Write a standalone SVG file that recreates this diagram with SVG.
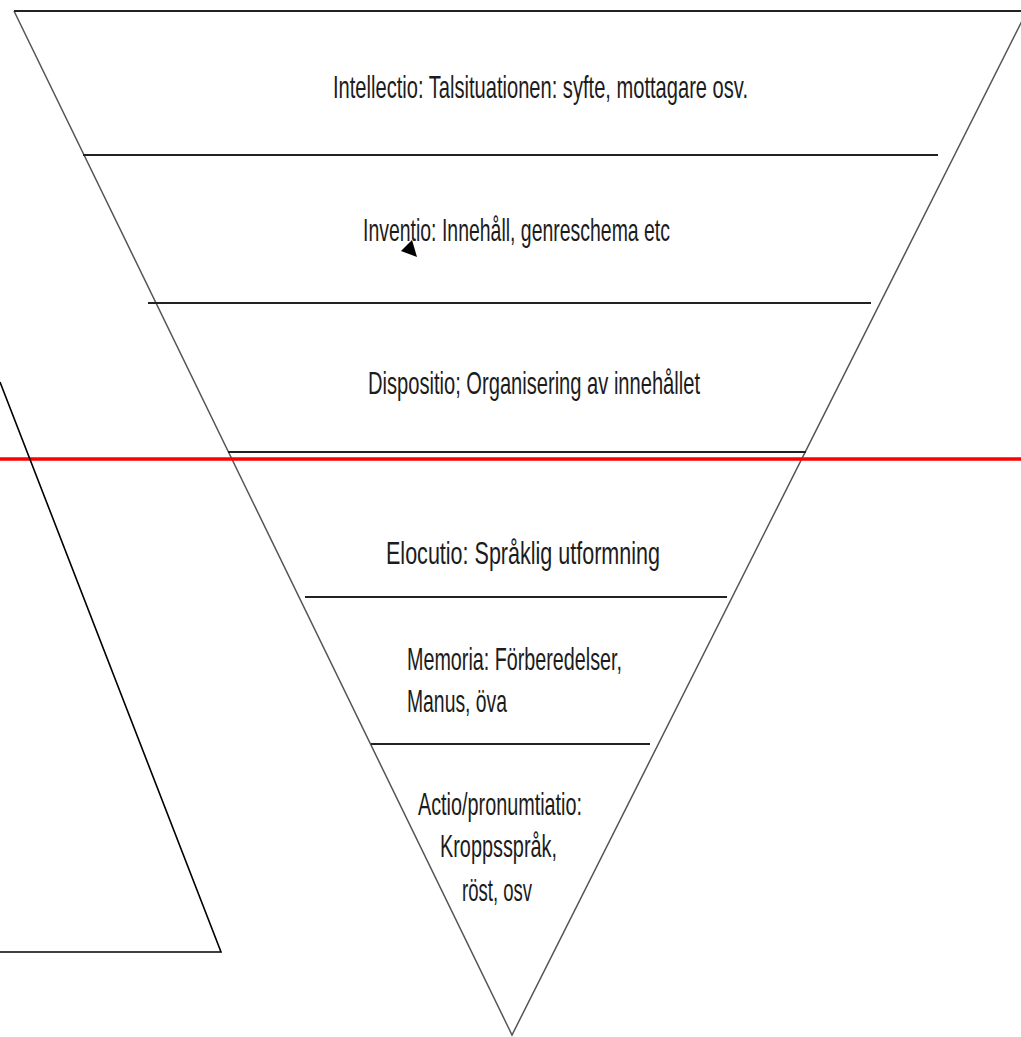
<svg xmlns="http://www.w3.org/2000/svg" width="1021" height="1037" viewBox="0 0 1021 1037">
<style>
.edge{stroke:#555;stroke-width:1.5;fill:none}
.div{stroke:#222;stroke-width:2.2;fill:none}
.lbl{font-family:"Liberation Sans",Arial,sans-serif;font-size:32px;fill:#1c1c1c}
.red{stroke:#ff0000;stroke-width:3.5}
.blk{stroke:#000;stroke-width:1.6;fill:none}
</style>
<rect width="1021" height="1037" fill="#fff"/>
<g id="pyramid">
<polyline class="edge" points="1027,11 512,1035 14,11"/>
<line class="div" x1="14" y1="11" x2="1027" y2="11" stroke-width="2.8"/>
</g>
<g id="intellectio">
<line class="div" x1="83" y1="155" x2="938" y2="155"/>
<text class="lbl" x="333" y="98" textLength="415" lengthAdjust="spacingAndGlyphs">Intellectio: Talsituationen: syfte, mottagare osv.</text>
</g>
<g id="inventio">
<line class="div" x1="148" y1="303" x2="871" y2="303"/>
<text class="lbl" x="363" y="241" textLength="307" lengthAdjust="spacingAndGlyphs">Inventio: Innehåll, genreschema etc</text>
</g>
<g id="dispositio">
<line class="div" x1="228" y1="452" x2="806" y2="452"/>
<text class="lbl" x="368" y="394" textLength="332" lengthAdjust="spacingAndGlyphs">Dispositio; Organisering av innehållet</text>
</g>
<g id="elocutio">
<line class="div" x1="305" y1="597" x2="727" y2="597"/>
<text class="lbl" x="386" y="564" textLength="274" lengthAdjust="spacingAndGlyphs">Elocutio: Språklig utformning</text>
</g>
<g id="memoria">
<line class="div" x1="371" y1="744" x2="650" y2="744"/>
<text class="lbl" x="407" y="670" textLength="215" lengthAdjust="spacingAndGlyphs">Memoria: Förberedelser,</text>
<text class="lbl" x="407" y="712" textLength="100" lengthAdjust="spacingAndGlyphs">Manus, öva</text>
</g>
<g id="actio">
<text class="lbl" x="418" y="815" textLength="164" lengthAdjust="spacingAndGlyphs">Actio/pronumtiatio:</text>
<text class="lbl" x="440" y="857" textLength="117" lengthAdjust="spacingAndGlyphs">Kroppsspråk,</text>
<text class="lbl" x="462" y="901" textLength="70" lengthAdjust="spacingAndGlyphs">röst, osv</text>
</g>
<g id="connectors">
<line class="red" x1="0" y1="459" x2="1021" y2="459"/>
<polyline class="blk" points="0,382 221,952 0,952"/>
<polygon points="412,240 401,251 417,257" fill="#000"/>
</g>
</svg>
